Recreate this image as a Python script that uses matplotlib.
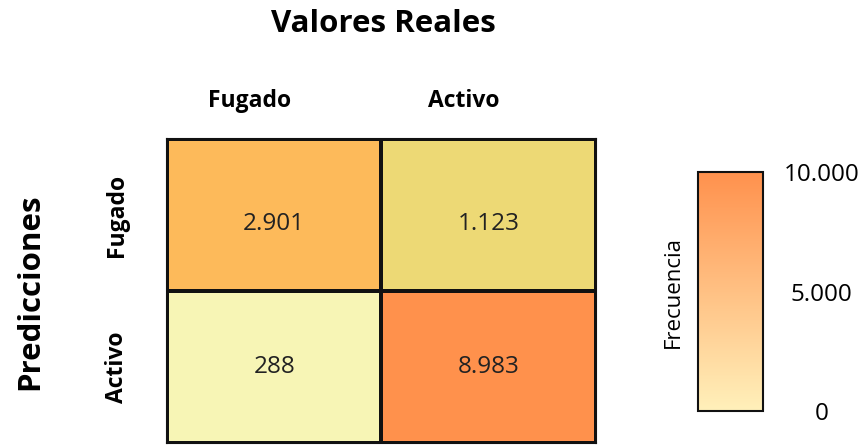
import numpy as np
import matplotlib
matplotlib.use("Agg")
from matplotlib import pyplot as plt
from matplotlib.colors import LinearSegmentedColormap, Normalize
from matplotlib.cm import ScalarMappable
from matplotlib.transforms import ScaledTranslation

plt.rcParams["font.family"] = ["Open Sans", "DejaVu Sans"]

labels = ["Fugado", "Activo"]
matrix = np.array([[2901, 1123],
                   [288, 8983]])
cbar_ticks = [0, 5000, 10000]

# cell colours as they appear in the picture
cell_cmap = LinearSegmentedColormap.from_list(
    "cells",
    [(0.0, "#F7F5B5"), (0.0288, "#F7F5B5"), (0.1123, "#EDD873"),
     (0.2901, "#FDBA5A"), (0.8983, "#FF914C"), (1.0, "#FF914C")])
bar_cmap = LinearSegmentedColormap.from_list("bar", ["#FFF0BA", "#FF914D"])
norm = Normalize(vmin=0, vmax=10000)

fig = plt.figure(figsize=(8.63, 4.45), dpi=100)
ax = fig.add_axes([0.1935, 0.0045, 0.4971, 0.683])

ax.pcolormesh(matrix, cmap=cell_cmap, norm=norm, edgecolors="#111111", linewidth=1.5)
ax.set_xlim(0, 2)
ax.set_ylim(2, 0)
# top row numbers sit a little below the cell centre in the original
row_nudge = [0.06, 0.0]
for i in range(2):
    for j in range(2):
        txt = f"{matrix[i, j]:,}".replace(",", ".")
        ax.text(j + 0.5, i + 0.5 + row_nudge[i], txt, ha="center", va="center",
                fontsize=17.5, color="#222222")

ax.xaxis.tick_top()
ax.set_xticks([0.5, 1.5])
ax.set_xticklabels(labels, fontsize=16.5, fontweight="bold")
ax.set_yticks([0.5, 1.5])
ax.set_yticklabels(labels, fontsize=16.5, fontweight="bold", rotation=90, va="center")
ax.tick_params(length=0, pad=19)
ax.tick_params(axis="y", pad=27)
# column labels sit a bit left of the cell centres in the original
shift = ScaledTranslation(-0.25, 0, fig.dpi_scale_trans)
for lbl in ax.get_xticklabels():
    lbl.set_transform(lbl.get_transform() + shift)
for s in ax.spines.values():
    s.set_linewidth(1.5)
    s.set_color("#111111")

fig.text(0.444, 0.946, "Valores Reales", ha="center", va="center", fontsize=22.5, fontweight="bold")
fig.text(0.035, 0.345, "Predicciones", ha="center", va="center", rotation=90, fontsize=22.5, fontweight="bold")

cax = fig.add_axes([0.809, 0.0764, 0.0753, 0.537])
cb = fig.colorbar(ScalarMappable(norm=norm, cmap=bar_cmap), cax=cax, ticks=cbar_ticks)
cb.ax.set_yticklabels([f"{t:,}".replace(",", ".") for t in cbar_ticks], fontsize=17.5)
for lbl in cb.ax.get_yticklabels():
    lbl.set_ha("center")
cb.ax.tick_params(length=0, pad=42)
cb.outline.set_linewidth(1.5)
cb.outline.set_edgecolor("#111111")
cb.ax.yaxis.set_label_position("left")
cb.set_label("Frecuencia", fontsize=16, labelpad=10)

fig.savefig("out.png", dpi=100)
